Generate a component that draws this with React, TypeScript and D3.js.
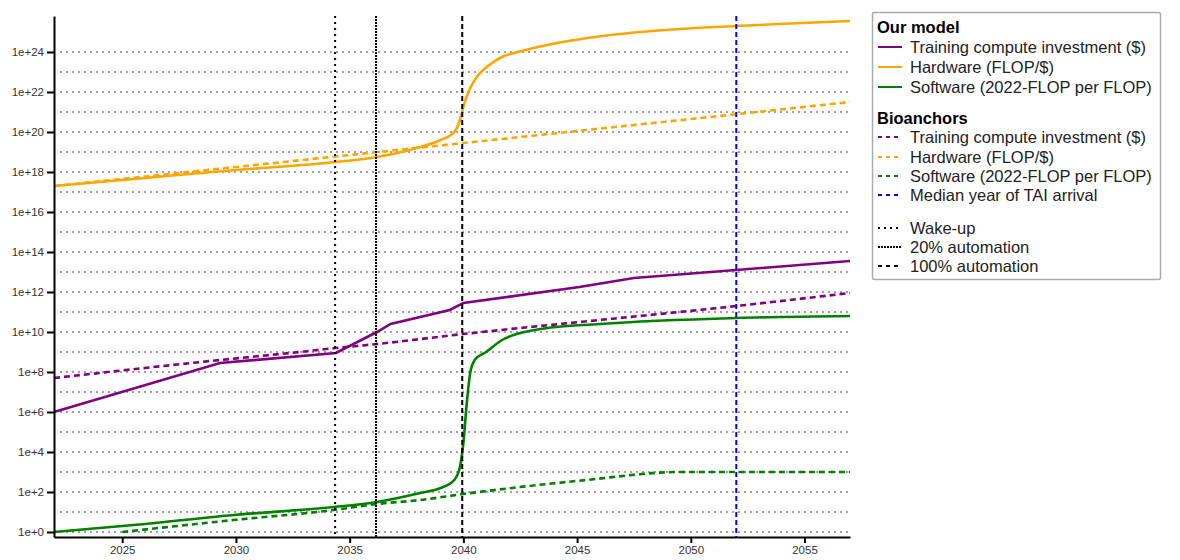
// @ts-nocheck
import React, { useEffect, useRef } from "react";
import * as d3 from "d3";

// values are log10 of the quantity
const ourHardwareYears = [2022, 2026, 2030, 2034.4, 2036.2, 2038.1, 2039.0, 2039.6, 2039.85, 2040.0, 2040.2, 2040.5, 2041.2, 2041.7, 2042.4, 2043.9, 2046.1, 2048.3, 2052, 2054.9, 2057];
const ourHardwareLog = [17.3, 17.7, 18.1, 18.5, 18.75, 19.25, 19.6, 20.0, 20.6, 21.25, 21.95, 22.6, 23.4, 23.75, 24.0, 24.4, 24.8, 25.05, 25.3, 25.45, 25.55];

const ourInvestYears = [2022, 2029.3, 2034.4, 2036.2, 2036.8, 2039.4, 2040.0, 2045.1, 2047.5, 2052, 2057];
const ourInvestLog = [6.0, 8.45, 8.95, 10.0, 10.4, 11.1, 11.45, 12.25, 12.7, 13.1, 13.55];

const ourSoftwareYears = [2022, 2026, 2029.9, 2034.3, 2036.2, 2038.1, 2039.0, 2039.6, 2039.85, 2040.0, 2040.15, 2040.3, 2040.5, 2041.0, 2041.7, 2042.5, 2043.4, 2046, 2052, 2057];
const ourSoftwareLog = [0, 0.4, 0.85, 1.25, 1.5, 1.95, 2.2, 2.6, 3.25, 4.45, 6.45, 7.95, 8.6, 9.0, 9.6, 9.95, 10.15, 10.4, 10.7, 10.8];

const bioHardwareYears = [2022, 2030, 2035, 2040, 2045, 2050, 2057];
const bioHardwareLog = [17.3, 18.25, 18.85, 19.45, 20.05, 20.65, 21.5];

const bioInvestYears = [2022, 2029.3, 2032.8, 2034.4, 2036.2, 2040, 2046, 2052, 2057];
const bioInvestLog = [7.7, 8.6, 9.0, 9.2, 9.4, 9.9, 10.6, 11.3, 11.95];

const bioSoftwareYears = [2025, 2029.9, 2034.3, 2036.2, 2038.1, 2040, 2045.4, 2049.5, 2057];
const bioSoftwareLog = [0, 0.6, 1.1, 1.4, 1.6, 1.9, 2.6, 3.0, 3.0];

const wakeUpYear = 2034.36;
const automation20Year = 2036.16;
const automation100Year = 2039.95;
const medianTaiYear = 2052;

const xTickYears = [2025, 2030, 2035, 2040, 2045, 2050, 2055];
const yTickExps = [0, 2, 4, 6, 8, 10, 12, 14, 16, 18, 20, 22, 24];
const gridExps = d3.range(0, 25);

const PURPLE = "#800080";
const ORANGE = "#FFA500";
const GREEN = "#008000";
const BLUE = "#0000FF";
const FONT = "'Liberation Sans', Arial, sans-serif";

function toPoints(years, logs) {
  return years.map((yr, i) => [yr, Math.pow(10, logs[i])]);
}

export default function App() {
  const ref = useRef(null);

  useEffect(() => {
    const svg = d3.select(ref.current);
    svg.selectAll("*").remove();

    const x = d3.scaleLinear([2022, 2057], [54, 850]);
    const y = d3.scaleLog([Math.pow(10, -0.25), Math.pow(10, 25.8)], [537, 16]);

    // gridlines
    svg
      .append("g")
      .selectAll("line")
      .data(gridExps)
      .join("line")
      .attr("x1", 60)
      .attr("x2", 850)
      .attr("y1", (e) => y(Math.pow(10, e)))
      .attr("y2", (e) => y(Math.pow(10, e)))
      .attr("stroke", "#a0a0a0")
      .attr("stroke-width", 2)
      .attr("stroke-dasharray", "2,4");

    const line = (curve) =>
      d3
        .line()
        .x((d) => x(d[0]))
        .y((d) => y(d[1]))
        .curve(curve);

    const series = [
      { pts: toPoints(bioInvestYears, bioInvestLog), color: PURPLE, dash: "6,4", curve: d3.curveMonotoneX },
      { pts: toPoints(bioHardwareYears, bioHardwareLog), color: ORANGE, dash: "6,4", curve: d3.curveMonotoneX },
      { pts: toPoints(bioSoftwareYears, bioSoftwareLog), color: GREEN, dash: "6,4", curve: d3.curveMonotoneX },
      { pts: toPoints(ourInvestYears, ourInvestLog), color: PURPLE, dash: null, curve: d3.curveLinear },
      { pts: toPoints(ourHardwareYears, ourHardwareLog), color: ORANGE, dash: null, curve: d3.curveMonotoneX },
      { pts: toPoints(ourSoftwareYears, ourSoftwareLog), color: GREEN, dash: null, curve: d3.curveMonotoneX },
    ];

    svg
      .append("g")
      .selectAll("path")
      .data(series)
      .join("path")
      .attr("d", (s) => line(s.curve)(s.pts))
      .attr("fill", "none")
      .attr("stroke", (s) => s.color)
      .attr("stroke-width", 2.6)
      .attr("stroke-dasharray", (s) => s.dash);

    // vertical markers
    const markers = [
      { year: wakeUpYear, color: "#000", dash: "2,4" },
      { year: automation20Year, color: "#000", dash: "2,1" },
      { year: automation100Year, color: "#000", dash: "5,3" },
      { year: medianTaiYear, color: BLUE, dash: "5,3" },
    ];
    svg
      .append("g")
      .selectAll("line")
      .data(markers)
      .join("line")
      .attr("x1", (m) => x(m.year))
      .attr("x2", (m) => x(m.year))
      .attr("y1", 16)
      .attr("y2", 537)
      .attr("stroke", (m) => m.color)
      .attr("stroke-width", 2)
      .attr("stroke-dasharray", (m) => m.dash);

    // axes
    const yAxis = d3
      .axisLeft(y)
      .tickValues(yTickExps.map((e) => Math.pow(10, e)))
      .tickFormat((d) => "1e+" + Math.round(Math.log10(d)))
      .tickSize(7)
      .tickSizeOuter(0);
    const xAxis = d3
      .axisBottom(x)
      .tickValues(xTickYears)
      .tickFormat(d3.format("d"))
      .tickSize(6)
      .tickSizeOuter(0);

    const styleAxis = (g) => {
      g.select(".domain").attr("stroke", "#000").attr("stroke-width", 2);
      g.selectAll(".tick line").attr("stroke", "#000").attr("stroke-width", 2);
      g.selectAll(".tick text").attr("fill", "#333").attr("font-size", 11.5).attr("font-family", FONT);
    };

    svg.append("g").attr("transform", "translate(54,0)").call(yAxis).call(styleAxis);
    svg.append("g").attr("transform", "translate(0,537)").call(xAxis).call(styleAxis);

    // legend
    const lg = svg.append("g").attr("font-family", FONT);
    lg.append("rect")
      .attr("x", 872.5)
      .attr("y", 12.5)
      .attr("width", 288)
      .attr("height", 267)
      .attr("rx", 2)
      .attr("fill", "#fff")
      .attr("stroke", "#aaa")
      .attr("stroke-width", 1.5);

    const headers = [
      { label: "Our model", cy: 27 },
      { label: "Bioanchors", cy: 118 },
    ];
    lg.selectAll("text.head")
      .data(headers)
      .join("text")
      .attr("class", "head")
      .attr("x", 877)
      .attr("y", (h) => h.cy)
      .attr("dy", "0.35em")
      .attr("font-size", 16.5)
      .attr("font-weight", "bold")
      .attr("fill", "#000")
      .text((h) => h.label);

    const items = [
      { label: "Training compute investment ($)", color: PURPLE, dash: null, cy: 47 },
      { label: "Hardware (FLOP/$)", color: ORANGE, dash: null, cy: 67 },
      { label: "Software (2022-FLOP per FLOP)", color: GREEN, dash: null, cy: 87 },
      { label: "Training compute investment ($)", color: PURPLE, dash: "4,4", cy: 137 },
      { label: "Hardware (FLOP/$)", color: ORANGE, dash: "4,4", cy: 157 },
      { label: "Software (2022-FLOP per FLOP)", color: GREEN, dash: "4,4", cy: 176 },
      { label: "Median year of TAI arrival", color: BLUE, dash: "4,4", cy: 195 },
      { label: "Wake-up", color: "#000", dash: "2,4", cy: 228 },
      { label: "20% automation", color: "#000", dash: "2,1", cy: 247 },
      { label: "100% automation", color: "#000", dash: "4,4", cy: 266 },
    ];
    const it = lg.selectAll("g.item").data(items).join("g").attr("class", "item");
    it.append("line")
      .attr("x1", 878)
      .attr("x2", 902)
      .attr("y1", (d) => d.cy)
      .attr("y2", (d) => d.cy)
      .attr("stroke", (d) => d.color)
      .attr("stroke-width", 2)
      .attr("stroke-dasharray", (d) => d.dash);
    it.append("text")
      .attr("x", 910)
      .attr("y", (d) => d.cy)
      .attr("dy", "0.35em")
      .attr("font-size", 16.5)
      .attr("fill", "#222")
      .text((d) => d.label);
  }, []);

  return (
    <svg
      ref={ref}
      width={1180}
      height={560}
      style={{ position: "absolute", left: 0, top: 0, display: "block", background: "#fff" }}
    />
  );
}
